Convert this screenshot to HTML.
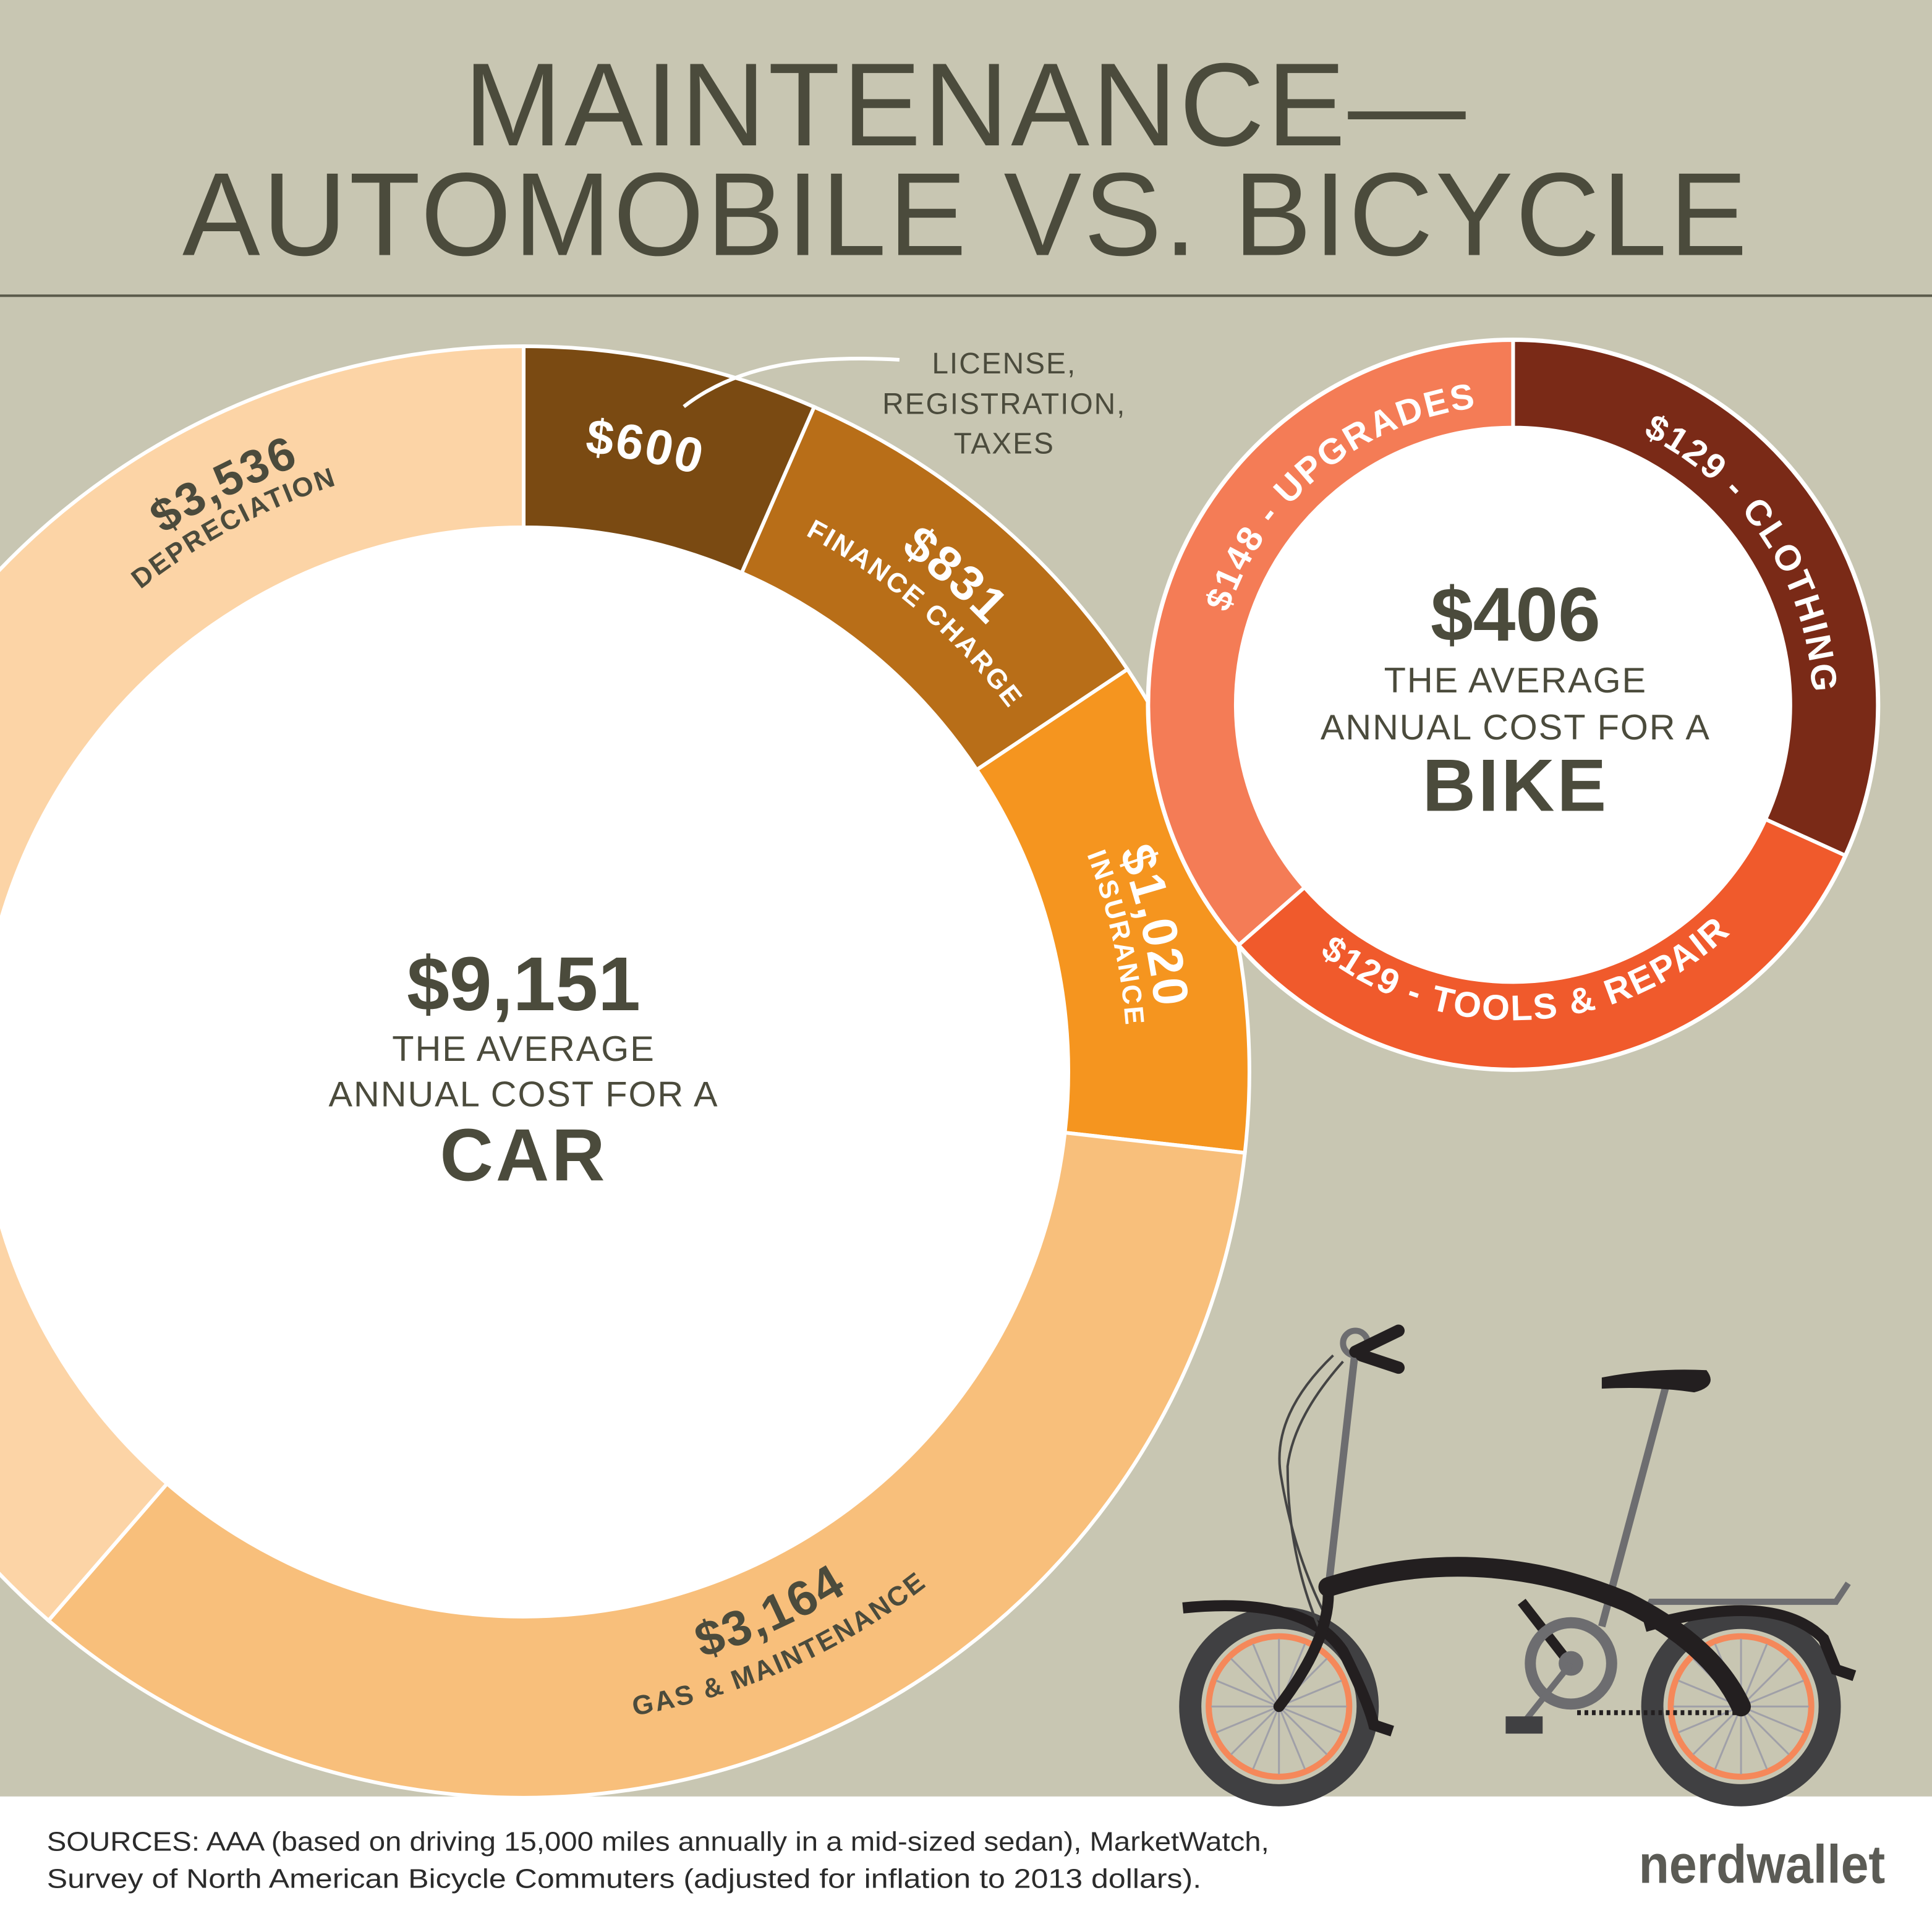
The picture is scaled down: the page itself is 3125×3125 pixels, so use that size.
<!DOCTYPE html>
<html><head><meta charset="utf-8"><style>
html,body{margin:0;padding:0;background:#c8c6b2;}
svg{display:block;}
text{font-family:"Liberation Sans",sans-serif;}
</style></head><body>
<svg id="s" width="3125" height="3125" viewBox="0 0 1568 1568" xmlns="http://www.w3.org/2000/svg">
<rect x="0" y="0" width="1568" height="1568" fill="#c8c6b2"/>
<text x="784" y="118" text-anchor="middle" font-size="96" fill="#4b4b3c" letter-spacing="2" textLength="815" lengthAdjust="spacingAndGlyphs">MAINTENANCE—</text>
<text x="784" y="207" text-anchor="middle" font-size="96" fill="#4b4b3c" letter-spacing="2" textLength="1272" lengthAdjust="spacingAndGlyphs">AUTOMOBILE VS. BICYCLE</text>
<rect x="0" y="239" width="1568" height="2" fill="#5a5a4a"/>
<g id="big"></g>
<g id="small"></g>
<g id="labels"></g>
<g fill="#4b4b3c" text-anchor="middle">
<text x="425" y="820" font-size="62" font-weight="bold">$9,151</text>
<text x="425" y="861" font-size="29" letter-spacing="1">THE AVERAGE</text>
<text x="425" y="898" font-size="29" letter-spacing="1">ANNUAL COST FOR A</text>
<text x="425" y="958" font-size="60" font-weight="bold" letter-spacing="2">CAR</text>
<text x="1230" y="520" font-size="62" font-weight="bold">$406</text>
<text x="1230" y="562" font-size="29" letter-spacing="1">THE AVERAGE</text>
<text x="1230" y="600" font-size="29" letter-spacing="1">ANNUAL COST FOR A</text>
<text x="1230" y="658" font-size="60" font-weight="bold" letter-spacing="2">BIKE</text>
<text x="815" y="303" font-size="24" letter-spacing="1">LICENSE,</text>
<text x="815" y="336" font-size="24" letter-spacing="1">REGISTRATION,</text>
<text x="815" y="368" font-size="24" letter-spacing="1">TAXES</text>
</g>
<path d="M555 330 C600 295 660 288 730 292" fill="none" stroke="#fff" stroke-width="3"/>
<rect x="0" y="1458" width="1568" height="110" fill="#fff"/>
<text x="38" y="1502" font-size="22" fill="#2b2b2b" textLength="992" lengthAdjust="spacingAndGlyphs">SOURCES: AAA (based on driving 15,000 miles annually in a mid-sized sedan), MarketWatch,</text>
<text x="38" y="1532" font-size="22" fill="#2b2b2b" textLength="937" lengthAdjust="spacingAndGlyphs">Survey of North American Bicycle Commuters (adjusted for inflation to 2013 dollars).</text>
<text x="1330" y="1528" font-size="44" font-weight="bold" fill="#5b5b55" textLength="200" lengthAdjust="spacingAndGlyphs">nerdwallet</text>
<g>
<path d="M1335 1310 L1340 1300 L1490 1300 L1500 1285" fill="none" stroke="#6d6d70" stroke-width="5"/>
<circle cx="1038" cy="1385" r="72" fill="none" stroke="#404042" stroke-width="18"/>
<circle cx="1038" cy="1385" r="57" fill="none" stroke="#f5885a" stroke-width="5"/>
<circle cx="1413" cy="1385" r="72" fill="none" stroke="#404042" stroke-width="18"/>
<circle cx="1413" cy="1385" r="57" fill="none" stroke="#f5885a" stroke-width="5"/>
<g id="spokes" stroke="#a0a0a8" stroke-width="1.5"></g>
<path d="M960 1305 Q1060 1295 1090 1340 Q1110 1380 1115 1400 L1130 1405" fill="none" stroke="#231f20" stroke-width="9"/>
<path d="M1335 1320 Q1440 1290 1480 1330 L1490 1355 L1505 1360" fill="none" stroke="#231f20" stroke-width="9"/>
<line x1="1100" y1="1095" x2="1078" y2="1290" stroke="#6d6d70" stroke-width="6"/>
<path d="M1082 1100 Q1030 1150 1040 1200 Q1050 1260 1075 1310" fill="none" stroke="#444" stroke-width="2"/>
<path d="M1090 1105 Q1050 1150 1045 1190 Q1045 1260 1070 1320" fill="none" stroke="#444" stroke-width="2"/>
<circle cx="1100" cy="1090" r="10" fill="none" stroke="#6d6d70" stroke-width="5"/>
<path d="M1100 1097 L1135 1080 M1105 1100 L1135 1110" stroke="#231f20" stroke-width="10" stroke-linecap="round"/>
<line x1="1352" y1="1125" x2="1300" y2="1320" stroke="#6d6d70" stroke-width="6"/>
<path d="M1300 1118 Q1340 1110 1385 1112 Q1395 1125 1375 1130 Q1340 1125 1300 1127 Z" fill="#231f20"/>
<path d="M1078 1290 Q1080 1330 1038 1385" fill="none" stroke="#231f20" stroke-width="9" stroke-linecap="round"/>
<path d="M1078 1288 Q1200 1250 1320 1300 Q1390 1335 1413 1385" fill="none" stroke="#231f20" stroke-width="16" stroke-linecap="round"/>
<path d="M1235 1300 L1270 1345" stroke="#231f20" stroke-width="8"/>
<circle cx="1275" cy="1350" r="33" fill="none" stroke="#6d6d70" stroke-width="9"/>
<circle cx="1275" cy="1350" r="10" fill="#6d6d70"/>
<line x1="1275" y1="1350" x2="1235" y2="1400" stroke="#6d6d70" stroke-width="5"/>
<rect x="1222" y="1393" width="30" height="14" fill="#404042"/>
<line x1="1280" y1="1390" x2="1410" y2="1390" stroke="#231f20" stroke-width="4" stroke-dasharray="3 3"/>
</g>
</svg>
<script>
(function(){
var NS="http://www.w3.org/2000/svg";
function P(cx,cy,a,r){var t=a*Math.PI/180;return [cx+r*Math.sin(t),cy-r*Math.cos(t)];}
function seg(cx,cy,R,r,a0,a1){var p0=P(cx,cy,a0,R),p1=P(cx,cy,a1,R),p2=P(cx,cy,a1,r),p3=P(cx,cy,a0,r);var l=(a1-a0)>180?1:0;
return "M"+p0+" A"+R+" "+R+" 0 "+l+" 1 "+p1+" L"+p2+" A"+r+" "+r+" 0 "+l+" 0 "+p3+" Z";}
function el(n,at,par){var e=document.createElementNS(NS,n);for(var k in at)e.setAttribute(k,at[k]);par.appendChild(e);return e;}
var big=document.getElementById("big"),small=document.getElementById("small"),lab=document.getElementById("labels");
var cx=425,cy=870,R=589,r=442;
var segs=[[0,23.6,"#7a4a12"],[23.6,56.3,"#b86e18"],[56.3,96.4,"#f5951f"],[96.4,220.9,"#f8bf7b"],[220.9,360,"#fcd4a6"]];
segs.forEach(function(s){el("path",{d:seg(cx,cy,R,r,s[0],s[1]),fill:s[2],stroke:"#fff","stroke-width":3},big);});
el("circle",{cx:cx,cy:cy,r:r,fill:"#fff"},big);
var sx=1228,sy=572,SR=296,sr=225;
var s2=[[0,114.4,"#7a2a17"],[114.4,228.8,"#f05a2c"],[228.8,360,"#f47c56"]];
el("circle",{cx:sx,cy:sy,r:SR+2,fill:"#fff"},small);
s2.forEach(function(s){el("path",{d:seg(sx,sy,SR,sr,s[0],s[1]),fill:s[2],stroke:"#fff","stroke-width":3},small);});
el("circle",{cx:sx,cy:sy,r:sr,fill:"#fff"},small);
var id=0;
function arcText(cx,cy,rad,ang,txt,size,fill,top){
 var pid="p"+(id++),d;
 if(top){var a=P(cx,cy,ang-80,rad),b=P(cx,cy,ang+80,rad);d="M"+a+" A"+rad+" "+rad+" 0 0 1 "+b;}
 else{var a=P(cx,cy,ang+80,rad),b=P(cx,cy,ang-80,rad);d="M"+a+" A"+rad+" "+rad+" 0 0 0 "+b;}
 el("path",{id:pid,d:d,fill:"none"},lab);
 var t=el("text",{"font-size":size,"font-weight":"bold",fill:fill,"text-anchor":"middle","letter-spacing":1.5},lab);
 var tp=el("textPath",{href:"#"+pid,startOffset:"50%"},t);tp.setAttributeNS("http://www.w3.org/1999/xlink","xlink:href","#"+pid);tp.textContent=txt;
}
var D="#4b4b3c";
arcText(cx,cy,505,11,"$600",40,"#fff",true);
arcText(cx,cy,522,41,"$831",40,"#fff",true);
arcText(cx,cy,492,40.5,"FINANCE CHARGE",22,"#fff",true);
arcText(cx,cy,515,77,"$1,020",40,"#fff",true);
arcText(cx,cy,490,77.3,"INSURANCE",22,"#fff",true);
arcText(cx,cy,525,333,"$3,536",38,D,true);
arcText(cx,cy,500,332,"DEPRECIATION",22,D,true);
arcText(cx,cy,497,155.5,"$3,164",40,D,false);
arcText(cx,cy,530,156,"GAS & MAINTENANCE",22,D,false);
arcText(sx,sy,243,320.5,"$148 - UPGRADES",29,"#fff",true);
arcText(sx,sy,243,56.8,"$129 - CLOTHING",29,"#fff",true);
arcText(sx,sy,256,177,"$129 - TOOLS & REPAIR",29,"#fff",false);
var sp=document.getElementById("spokes");
[[1038,1385],[1413,1385]].forEach(function(c){for(var i=0;i<16;i++){var p=P(c[0],c[1],i*22.5,55);el("line",{x1:c[0],y1:c[1],x2:p[0],y2:p[1]},sp);}});
})();
</script>
</body></html>
